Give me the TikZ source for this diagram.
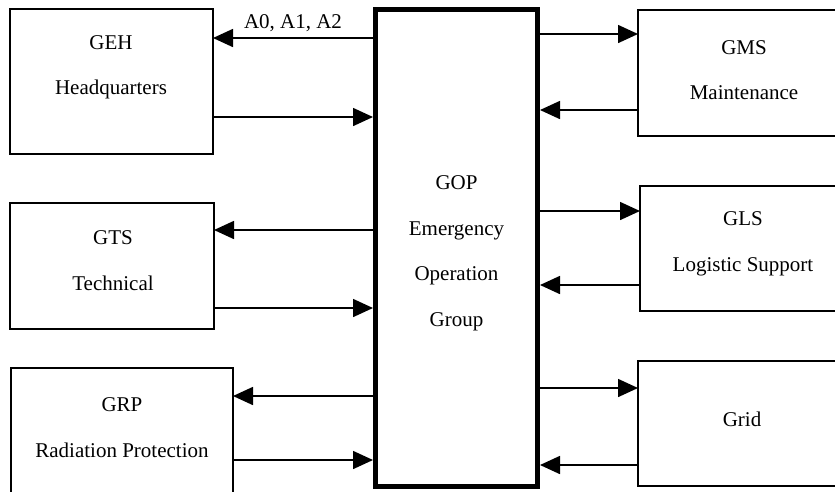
\documentclass[tikz,border=0pt]{standalone}
\usepackage{fontspec}
\setmainfont{Liberation Serif}
\usetikzlibrary{arrows.meta}

\begin{document}
\begin{tikzpicture}[x=1pt, y=-1pt, >={Triangle[length=20pt, width=18pt]}, line width=1.6pt,
		box/.style={draw, rectangle, line width=1.6pt, inner sep=0pt, outer sep=0pt},
		txt/.style={align=center, font=\fontsize{21}{45.5}\selectfont, inner sep=0pt}]
		\useasboundingbox (0,0) rectangle (835,491);
		\clip (0,0) rectangle (835,491);
		% central group
		\node[box, line width=5pt, outer sep=2.5pt, minimum width=162pt, minimum height=476.5pt] (gop) at (456.5,247.75) {};
		\node[txt] (gopT) at (456.5,253.5) {GOP\\Emergency\\Operation\\Group};
		% left side
		\node[box, minimum width=203pt, minimum height=145pt] (geh) at (111.5,81.5) {};
		\node[txt] (gehT) at (111,67.5) {GEH\\Headquarters};
		\node[box, minimum width=204pt, minimum height=126pt] (gts) at (112,266) {};
		\node[txt] (gtsT) at (113,260.5) {GTS\\Technical};
		\node[box, minimum width=222pt, minimum height=142pt] (grp) at (122,439) {};
		\node[txt] (grpT) at (122,427.5) {GRP\\Radiation Protection};
		% right side
		\node[box, minimum width=212pt, minimum height=126pt] (gms) at (744,73) {};
		\node[txt] (gmsT) at (744,70) {GMS\\Maintenance};
		\node[box, minimum width=210pt, minimum height=125pt] (gls) at (745,248.5) {};
		\node[txt] (glsT) at (743,244) {GLS\\Logistic Support};
		\node[box, minimum width=212pt, minimum height=125pt] (grid) at (744,423.5) {};
		\node[txt] (gridT) at (742,419) {Grid};
		% flows
		\draw[->] (gop.west |- 0,38) -- (geh.east |- 0,38) node[above, midway, font=\fontsize{21}{24}\selectfont, inner sep=5pt] {A0, A1, A2};
		\draw[->] (geh.east |- 0,117) -- (gop.west |- 0,117);
		\draw[->] (gop.west |- 0,230) -- (gts.east |- 0,230);
		\draw[->] (gts.east |- 0,308) -- (gop.west |- 0,308);
		\draw[->] (gop.west |- 0,396) -- (grp.east |- 0,396);
		\draw[->] (grp.east |- 0,460) -- (gop.west |- 0,460);
		\draw[->] (gop.east |- 0,34) -- (gms.west |- 0,34);
		\draw[->] (gms.west |- 0,110) -- (gop.east |- 0,110);
		\draw[->] (gop.east |- 0,211) -- (gls.west |- 0,211);
		\draw[->] (gls.west |- 0,285) -- (gop.east |- 0,285);
		\draw[->] (gop.east |- 0,388) -- (grid.west |- 0,388);
		\draw[->] (grid.west |- 0,465) -- (gop.east |- 0,465);
	\end{tikzpicture}
\end{document}
